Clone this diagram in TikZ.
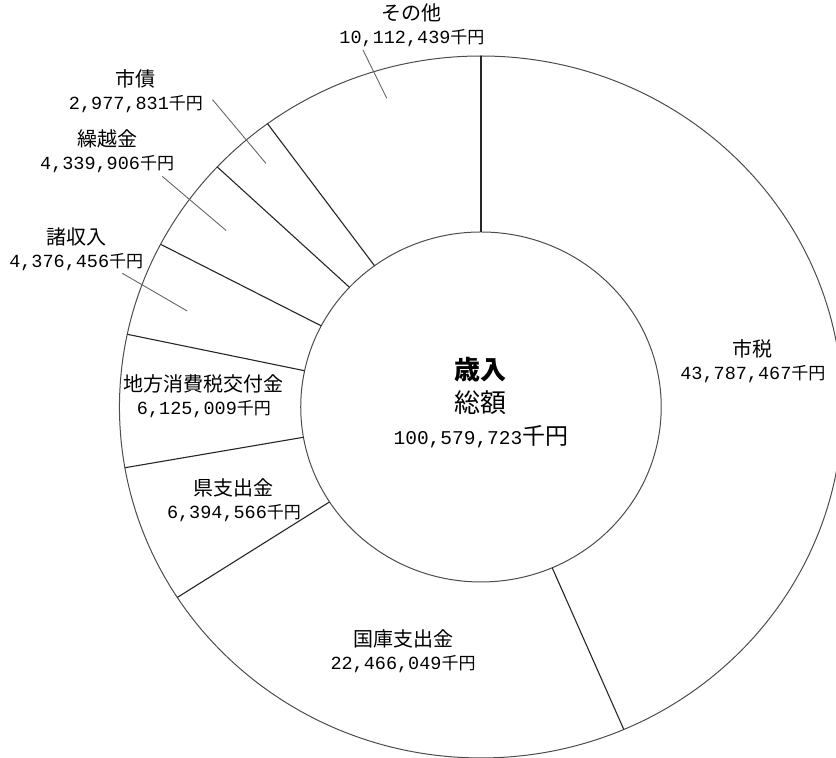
\documentclass[tikz,border=0pt]{standalone}
\usepackage{fontspec}
\setmainfont{Liberation Mono}
\newfontfamily\jpfont{Noto Sans CJK JP}
\newcommand\kanji[1]{{\jpfont\fontsize{20}{23}\selectfont #1}}
\newcommand\senen{{\jpfont\fontsize{17}{23}\selectfont 千円}}
\tikzstyle{ring}=[draw=black!70, line width=1pt]
\tikzstyle{slice}=[draw=black!85, line width=1.1pt]
\tikzstyle{leader}=[draw=black!60, line width=0.9pt]
\tikzstyle{share}=[align=center, inner sep=0pt, font=\fontsize{18.5}{23}\selectfont]
\tikzstyle{total}=[align=center, inner sep=0pt, font=\fontsize{19.5}{32.5}\selectfont]

\begin{document}
\begin{tikzpicture}[x=1.03pt, y=1pt]

\useasboundingbox (-467,-351) rectangle (344.7,407);

\draw [ring] (0,0) circle [radius=351];
\draw [ring] (0,0) circle [radius=175];
\foreach \a in {90,-66.73,-147.14,-170.03,168.05,152.39,136.85,126.19}
  \draw [slice] (\a:175) -- (\a:351);

\node [total] (sogaku) at (0,4) {{\jpfont\bfseries\fontsize{26}{32.5}\selectfont 歳入}\\{\jpfont\fontsize{26}{32.5}\selectfont 総額}\\100,579,723{\jpfont\fontsize{23}{32.5}\selectfont 千円}};

\node [share] (shizei) at (264,46) {\kanji{市税}\\43,787,467\senen};
\node [share] (kokko) at (-75.7,-244) {\kanji{国庫支出金}\\22,466,049\senen};
\node [share] (ken) at (-239.8,-93) {\kanji{県支出金}\\6,394,566\senen};
\node [share] (chiho) at (-269,11) {\kanji{地方消費税交付金}\\6,125,009\senen};
\node [share] (shoshu) at (-393,157.5) {\kanji{諸収入}\\4,376,456\senen};
\node [share] (kurikoshi) at (-363,256) {\kanji{繰越金}\\4,339,906\senen};
\node [share] (shisai) at (-335,315.5) {\kanji{市債}\\2,977,831\senen};
\node [share] (sonota) at (-67,381.5) {\kanji{その他}\\10,112,439\senen};

\coordinate (shoshu-a) at (159:373);
\coordinate (shoshu-b) at (161.4:301);
\coordinate (kurikoshi-a) at (143.3:386);
\coordinate (kurikoshi-b) at (144.5:304);
\coordinate (shisai-a) at (130.3:403);
\coordinate (shisai-b) at (130.6:321);
\coordinate (sonota-a) at (107.8:375);
\coordinate (sonota-b) at (106.5:322);

\draw [leader] (shoshu-a) -- (shoshu-b);
\draw [leader] (kurikoshi-a) -- (kurikoshi-b);
\draw [leader] (shisai-a) -- (shisai-b);
\draw [leader] (sonota-a) -- (sonota-b);

\end{tikzpicture}
\end{document}
